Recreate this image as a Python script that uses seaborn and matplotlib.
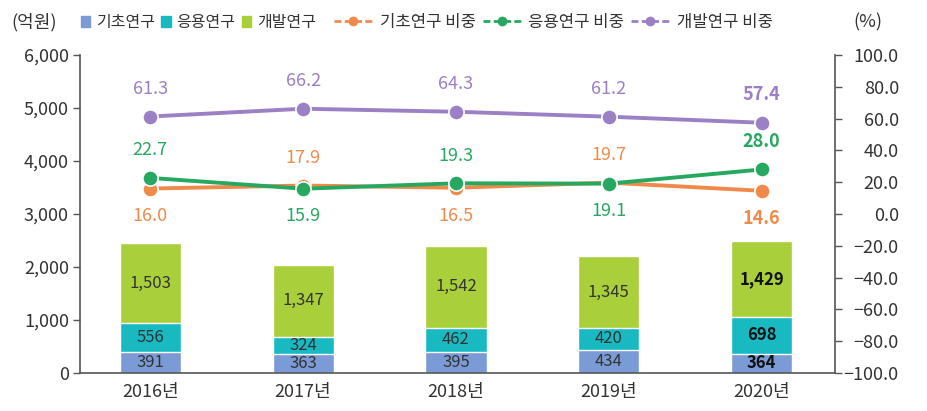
import numpy as np
import pandas as pd
import matplotlib
matplotlib.use("Agg")
import matplotlib.pyplot as plt
from matplotlib.lines import Line2D
from matplotlib.patches import Patch
import seaborn as sns

years = ["2016년", "2017년", "2018년", "2019년", "2020년"]
basic = [391, 363, 395, 434, 364]
applied = [556, 324, 462, 420, 698]
develop = [1503, 1347, 1542, 1345, 1429]
basic_pct = [16.0, 17.9, 16.5, 19.7, 14.6]
applied_pct = [22.7, 15.9, 19.3, 19.1, 28.0]
develop_pct = [61.3, 66.2, 64.3, 61.2, 57.4]
left_ticks = [0, 1000, 2000, 3000, 4000, 5000, 6000]
right_ticks = [-100, -80, -60, -40, -20, 0, 20, 40, 60, 80, 100]

sns.set_theme(style="white")
plt.rcParams['font.family'] = ['Noto Sans CJK KR', 'DejaVu Sans']

C_BASIC = "#7b9bd6"
C_APPL = "#19b9c1"
C_DEV = "#a9cf3b"
L_BASIC = "#f08a4b"
L_APPL = "#27a860"
L_DEV = "#9b80c6"
TXT = "#333333"
SPINE = "#555555"
FS = 13
LFS = 12

fig = plt.figure(figsize=(9.28, 4.11), dpi=100)
ax = fig.add_axes([0.0862, 0.0925, 0.8136, 0.7737])

df = pd.DataFrame({"year": years, "basic": basic, "applied": applied, "develop": develop})
df["s2"] = df["basic"] + df["applied"]
df["s3"] = df["s2"] + df["develop"]

W = 0.4
sns.barplot(data=df, x="year", y="s3", color=C_DEV, width=W, saturation=1, ax=ax, order=years)
sns.barplot(data=df, x="year", y="s2", color=C_APPL, width=W, saturation=1, ax=ax, order=years)
sns.barplot(data=df, x="year", y="basic", color=C_BASIC, width=W, saturation=1, ax=ax, order=years)

for i in range(len(years)):
    b, a, d = basic[i], applied[i], develop[i]
    bold = "bold" if i == 4 else "normal"
    col = "#111111" if i == 4 else TXT
    ax.text(i, b / 2, f"{b:,}", ha="center", va="center", fontsize=12, color=col, fontweight=bold)
    ax.text(i, b + a / 2, f"{a:,}", ha="center", va="center", fontsize=12, color=col, fontweight=bold)
    ax.text(i, b + a + d / 2, f"{d:,}", ha="center", va="center", fontsize=12, color=col, fontweight=bold)

ax.set_xlim(-0.46, 4.48)
ax.set_ylim(0, 6000)
ax.set_yticks(left_ticks)
ax.set_yticklabels([f"{t:,}" for t in left_ticks])
ax.set_xlabel("")
ax.set_ylabel("")
for s in ["top", "right"]:
    ax.spines[s].set_visible(False)
for s in ["left", "bottom"]:
    ax.spines[s].set_color(SPINE)
    ax.spines[s].set_linewidth(1.2)
ax.tick_params(axis="y", which="both", left=True, length=5, width=1, color=SPINE, labelsize=FS, labelcolor=TXT, pad=3)
ax.tick_params(axis="x", bottom=False, labelsize=FS, labelcolor=TXT, pad=1)

ax2 = ax.twinx()
xs = np.arange(len(years))
for vals, c in [(develop_pct, L_DEV), (basic_pct, L_BASIC), (applied_pct, L_APPL)]:
    sns.lineplot(x=xs, y=vals, color=c, linewidth=2.8, marker="o", markersize=11,
                 markeredgecolor="white", markeredgewidth=1.2, ax=ax2, legend=False)
ax2.set_ylim(-100, 100)
ax2.set_xlim(-0.46, 4.48)
ax2.set_yticks(right_ticks)
ax2.set_yticklabels([f"{t:.1f}".replace("-", "\u2212") for t in right_ticks], ha="right")
for s in ["top", "left", "bottom"]:
    ax2.spines[s].set_visible(False)
ax2.spines["right"].set_color(SPINE)
ax2.spines["right"].set_linewidth(1.2)
ax2.tick_params(axis="y", right=True, length=5, width=1, color=SPINE, labelsize=FS, labelcolor=TXT, pad=41)
ax2.grid(False)
ax.grid(False)

OFF = 20
above_basic = [False, True, False, True, False]
for i in range(len(years)):
    bold = "bold" if i == 4 else "normal"
    ax2.annotate(f"{develop_pct[i]:.1f}", (i, develop_pct[i]), xytext=(0, OFF), textcoords="offset points",
                 ha="center", va="center", fontsize=FS, color=L_DEV, fontweight=bold)
    ob = OFF if above_basic[i] else -OFF
    oa = -OFF if above_basic[i] else OFF
    ax2.annotate(f"{basic_pct[i]:.1f}", (i, basic_pct[i]), xytext=(0, ob), textcoords="offset points",
                 ha="center", va="center", fontsize=FS, color=L_BASIC, fontweight=bold)
    ax2.annotate(f"{applied_pct[i]:.1f}", (i, applied_pct[i]), xytext=(0, oa), textcoords="offset points",
                 ha="center", va="center", fontsize=FS, color=L_APPL, fontweight=bold)

bar_handles = [
    Patch(color=C_BASIC, label="기초연구"),
    Patch(color=C_APPL, label="응용연구"),
    Patch(color=C_DEV, label="개발연구"),
]
line_handles = [
    Line2D([0], [0], color=L_BASIC, lw=2, ls=(0, (2.5, 1.2)), marker="o", markersize=6, label="기초연구 비중"),
    Line2D([0], [0], color=L_APPL, lw=2, ls=(0, (2.5, 1.2)), marker="o", markersize=6, label="응용연구 비중"),
    Line2D([0], [0], color=L_DEV, lw=2, ls=(0, (2.5, 1.2)), marker="o", markersize=6, label="개발연구 비중"),
]
leg1 = fig.legend(handles=bar_handles, loc="center left", bbox_to_anchor=(0.087, 0.945), ncol=3, frameon=False,
                  fontsize=11.5, handlelength=0.6, handleheight=0.6, handletextpad=0.35, columnspacing=0.4,
                  labelcolor=TXT, borderaxespad=0, borderpad=0)
leg2 = fig.legend(handles=line_handles, loc="center left", bbox_to_anchor=(0.36, 0.945), ncol=3, frameon=False,
                  fontsize=LFS, handlelength=2.3, handletextpad=0.45, columnspacing=0.4,
                  labelcolor=TXT, borderaxespad=0, borderpad=0)
fig.text(0.012, 0.945, "(억원)", ha="left", va="center", fontsize=FS, color=TXT)
fig.text(0.935, 0.945, "(%)", ha="center", va="center", fontsize=FS, color=TXT)

fig.savefig("out.png", dpi=100)
